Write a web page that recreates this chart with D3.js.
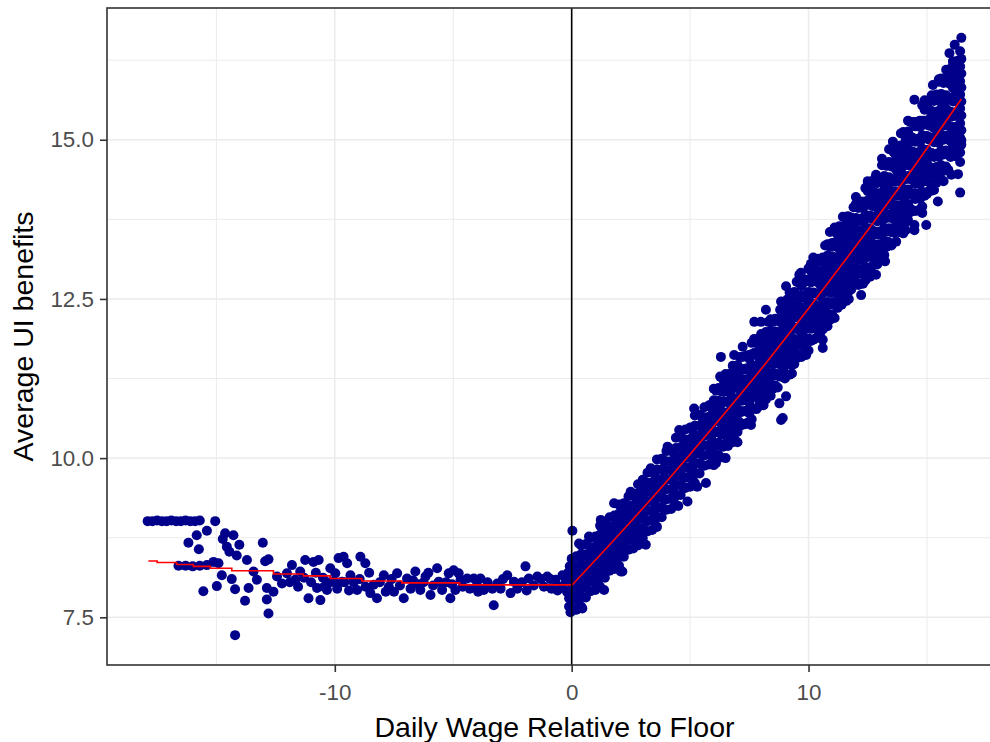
<!DOCTYPE html>
<html>
<head>
<meta charset="utf-8">
<script src="https://cdn.jsdelivr.net/npm/d3@7"></script>
<style>
  html, body { margin: 0; padding: 0; background: #ffffff; }
  svg { display: block; font-family: "Liberation Sans", Arial, Helvetica, sans-serif; }
</style>
</head>
<body>
<svg id="chart" width="990" height="742"></svg>
<script>
// ---- data -----------------------------------------------------------------
// Bins capped at the benefit maximum on the far left
const capRowX = [-17.9, -17.7, -17.5, -17.3, -17.1, -16.9, -16.7, -16.5, -16.3, -16.1, -15.9, -15.7, -15.05];
const capRowY = [9.01, 9.01, 9.02, 9.01, 9.01, 9.02, 9.01, 9.01, 9.02, 9.01, 9.01, 9.02, 9.01];

// Bins below the floor (x < 0)
const belowFloor = [
  [-15.83, 8.79], [-15.40, 8.86], [-16.18, 8.67], [-15.74, 8.57], [-14.63, 8.82], [-14.28, 8.79],
  [-14.73, 8.73], [-14.03, 8.64], [-14.56, 8.61], [-14.45, 8.53], [-14.14, 8.47], [-13.71, 8.40],
  [-13.04, 8.67], [-12.80, 8.41], [-12.94, 8.38], [-15.12, 8.37], [-14.91, 8.35],
  [-16.6, 8.31], [-16.3, 8.31], [-16.0, 8.30], [-15.7, 8.31], [-15.4, 8.32],
  [-14.77, 8.16], [-14.35, 8.10], [-14.98, 7.99], [-15.55, 7.91], [-14.21, 7.94], [-13.79, 7.76],
  [-12.80, 7.56], [-14.21, 7.22], [-13.64, 7.96], [-13.29, 8.09], [-13.43, 8.22], [-12.87, 7.96],
  [-12.59, 7.90], [-12.87, 7.78], [-12.44, 8.14], [-12.23, 8.03], [-12.02, 8.19], [-11.81, 8.32],
  [-11.46, 8.22], [-11.25, 8.40], [-10.90, 8.37], [-10.68, 8.40], [-11.67, 8.09], [-11.11, 7.80],
  [-10.61, 7.77], [-10.75, 7.96], [-10.33, 7.93], [-10.05, 8.06], [-10.19, 8.27], [-9.84, 8.43],
  [-9.98, 8.19], [-9.63, 8.45], [-8.92, 8.45], [-8.71, 8.35], [-9.48, 8.35], [-9.70, 8.06],
  [-9.34, 8.16], [-9.06, 7.93], [-8.36, 8.01], [-8.22, 7.80], [-7.93, 8.16], [-7.72, 7.98],
  [-7.37, 8.19], [-7.09, 7.80], [-6.95, 8.11], [-6.60, 8.22], [-6.39, 7.93], [-6.17, 8.14],
  [-5.96, 7.85], [-5.68, 8.27], [-5.61, 8.06], [-5.47, 7.93], [-5.19, 8.19], [-4.98, 8.24],
  [-4.77, 8.19], [-4.91, 7.93], [-5.12, 7.80], [-4.69, 8.09], [-4.41, 8.11], [-4.13, 8.11],
  [-3.85, 8.11], [-3.71, 7.93], [-3.29, 7.69], [-3.14, 8.03], [-2.72, 8.16], [-2.44, 8.06],
  [-2.58, 7.88], [-1.95, 8.30], [-1.81, 8.11], [-1.45, 8.14], [-1.17, 7.98], [-1.03, 8.14],
  [-0.68, 8.09], [-0.39, 8.16], [-0.47, 7.98], [-0.11, 7.80], [-0.11, 7.67], [0.03, 8.86],
  [-11.9, 8.05], [-11.55, 7.98], [-11.3, 8.12], [-11.0, 8.05], [-10.8, 8.20], [-10.5, 8.12],
  [-10.45, 7.98], [-10.2, 8.05], [-9.9, 7.95], [-9.6, 8.05], [-9.4, 7.92], [-9.2, 8.05],
  [-8.95, 8.10], [-8.7, 7.98], [-8.55, 8.20], [-8.5, 7.88], [-8.1, 8.05], [-7.85, 7.90],
  [-7.6, 8.10], [-7.5, 7.90], [-7.25, 8.00], [-6.8, 7.95], [-6.7, 8.08], [-6.5, 8.02],
  [-6.25, 8.05], [-6.05, 8.20], [-5.85, 8.00], [-5.3, 8.05], [-5.05, 8.02], [-4.6, 7.98],
  [-4.3, 7.95], [-4.0, 8.00], [-3.95, 7.90], [-3.55, 8.05], [-3.35, 7.95], [-3.0, 7.95],
  [-2.9, 8.10], [-2.3, 7.95], [-2.1, 8.05], [-1.9, 7.92], [-1.6, 8.00], [-1.3, 8.10],
  [-0.85, 7.95], [-0.9, 8.10], [-0.6, 7.92], [-0.25, 8.05], [-0.2, 7.90], [-0.15, 8.20],
  [-0.08, 8.30], [-0.05, 7.58]
];

// Bins above the floor: one column of averages per wage position
const aboveX = [0.0, 0.2, 0.4, 0.6, 0.8, 1.0, 1.2, 1.4, 1.6, 1.8, 2.0, 2.2, 2.4, 2.6, 2.8, 3.0, 3.2, 3.4,
  3.6, 3.8, 4.0, 4.2, 4.4, 4.6, 4.8, 5.0, 5.2, 5.4, 5.6, 5.8, 6.0, 6.2, 6.4, 6.6, 6.8, 7.0, 7.2, 7.4,
  7.6, 7.8, 8.0, 8.2, 8.4, 8.6, 8.8, 9.0, 9.2, 9.4, 9.6, 9.8, 10.0, 10.2, 10.4, 10.6, 10.8, 11.0,
  11.2, 11.4, 11.6, 11.8, 12.0, 12.2, 12.4, 12.6, 12.8, 13.0, 13.2, 13.4, 13.6, 13.8, 14.0, 14.2,
  14.4, 14.6, 14.8, 15.0, 15.2, 15.4, 15.6, 15.8, 16.0, 16.2, 16.4];
const aboveY = [
  [8.42, 8.27, 8.15, 8.03, 7.90, 7.77, 7.64],
  [8.46, 8.30, 8.17, 8.04, 7.90, 7.77, 7.62],
  [8.63, 8.49, 8.35, 8.22, 8.09, 7.95, 7.81, 7.67],
  [8.65, 8.49, 8.36, 8.23, 8.10, 7.96, 7.81],
  [8.75, 8.60, 8.47, 8.34, 8.20, 8.06, 7.91],
  [8.77, 8.61, 8.48, 8.35, 8.21, 8.08, 7.93],
  [8.94, 8.80, 8.66, 8.53, 8.40, 8.26, 8.12, 7.98],
  [8.96, 8.80, 8.67, 8.54, 8.41, 8.27, 8.12],
  [9.07, 8.92, 8.79, 8.66, 8.52, 8.38, 8.23],
  [9.10, 8.94, 8.81, 8.68, 8.54, 8.41, 8.26],
  [9.27, 9.13, 8.99, 8.86, 8.73, 8.59, 8.45, 8.31],
  [9.29, 9.13, 9.00, 8.87, 8.74, 8.60, 8.45],
  [9.40, 9.25, 9.12, 8.99, 8.85, 8.71, 8.56],
  [9.42, 9.26, 9.13, 9.00, 8.86, 8.73, 8.58],
  [9.59, 9.45, 9.31, 9.18, 9.05, 8.91, 8.77, 8.63],
  [9.66, 9.49, 9.34, 9.20, 9.06, 8.90, 8.74],
  [9.77, 9.61, 9.47, 9.32, 9.17, 9.01, 8.85],
  [9.80, 9.62, 9.48, 9.34, 9.18, 9.04, 8.87],
  [9.98, 9.82, 9.67, 9.53, 9.38, 9.23, 9.07, 8.92],
  [9.99, 9.82, 9.67, 9.53, 9.39, 9.23, 9.07],
  [10.11, 9.95, 9.81, 9.66, 9.51, 9.35, 9.19],
  [10.13, 9.95, 9.81, 9.67, 9.51, 9.37, 9.20],
  [10.32, 10.16, 10.01, 9.87, 9.72, 9.57, 9.41, 9.26],
  [10.34, 10.17, 10.02, 9.88, 9.74, 9.58, 9.42],
  [10.45, 10.29, 10.15, 10.00, 9.85, 9.69, 9.53],
  [10.48, 10.30, 10.16, 10.02, 9.86, 9.72, 9.55],
  [10.67, 10.51, 10.36, 10.22, 10.07, 9.92, 9.76, 9.61],
  [10.68, 10.51, 10.36, 10.22, 10.08, 9.92, 9.76],
  [10.80, 10.64, 10.50, 10.35, 10.20, 10.04, 9.88],
  [10.83, 10.65, 10.51, 10.37, 10.21, 10.07, 9.90],
  [11.09, 10.91, 10.74, 10.58, 10.41, 10.24, 10.06, 9.89],
  [11.10, 10.90, 10.74, 10.58, 10.41, 10.24, 10.05],
  [11.23, 11.04, 10.88, 10.72, 10.54, 10.37, 10.18],
  [11.25, 11.05, 10.88, 10.72, 10.54, 10.38, 10.19],
  [11.45, 11.27, 11.10, 10.94, 10.77, 10.60, 10.42, 10.25],
  [11.46, 11.26, 11.10, 10.94, 10.77, 10.60, 10.41],
  [11.59, 11.40, 11.24, 11.08, 10.90, 10.73, 10.54],
  [11.61, 11.41, 11.24, 11.08, 10.90, 10.74, 10.55],
  [11.81, 11.63, 11.46, 11.30, 11.13, 10.96, 10.78, 10.61],
  [11.82, 11.62, 11.46, 11.30, 11.13, 10.96, 10.77],
  [11.95, 11.76, 11.60, 11.44, 11.26, 11.09, 10.90],
  [11.98, 11.78, 11.61, 11.45, 11.27, 11.11, 10.92],
  [12.18, 12.00, 11.83, 11.67, 11.50, 11.33, 11.15, 10.98],
  [12.19, 11.99, 11.83, 11.67, 11.50, 11.33, 11.14],
  [12.33, 12.14, 11.98, 11.82, 11.64, 11.47, 11.28],
  [12.38, 12.17, 11.99, 11.82, 11.63, 11.45, 11.25],
  [12.60, 12.42, 12.23, 12.05, 11.88, 11.69, 11.50, 11.31],
  [12.61, 12.40, 12.22, 12.05, 11.87, 11.68, 11.48],
  [12.75, 12.55, 12.38, 12.20, 12.01, 11.82, 11.62],
  [12.76, 12.55, 12.37, 12.20, 12.01, 11.83, 11.63],
  [12.98, 12.80, 12.61, 12.43, 12.26, 12.07, 11.88, 11.69],
  [12.99, 12.78, 12.60, 12.43, 12.25, 12.06, 11.86],
  [13.13, 12.93, 12.76, 12.58, 12.39, 12.20, 12.00],
  [13.15, 12.94, 12.76, 12.59, 12.40, 12.22, 12.02],
  [13.36, 13.18, 12.99, 12.81, 12.64, 12.45, 12.26, 12.07],
  [13.38, 13.17, 12.99, 12.82, 12.64, 12.45, 12.25],
  [13.52, 13.32, 13.15, 12.97, 12.78, 12.59, 12.39],
  [13.54, 13.33, 13.15, 12.98, 12.79, 12.61, 12.41],
  [13.76, 13.58, 13.39, 13.21, 13.04, 12.85, 12.66, 12.47],
  [13.78, 13.57, 13.39, 13.22, 13.04, 12.85, 12.65],
  [13.99, 13.77, 13.57, 13.38, 13.16, 12.95, 12.73],
  [14.00, 13.76, 13.57, 13.37, 13.16, 12.96, 12.74],
  [14.24, 14.03, 13.82, 13.62, 13.42, 13.21, 13.00, 12.79],
  [14.25, 14.01, 13.81, 13.61, 13.42, 13.21, 12.98],
  [14.39, 14.17, 13.97, 13.78, 13.56, 13.35, 13.13],
  [14.40, 14.16, 13.97, 13.77, 13.56, 13.36, 13.14],
  [14.64, 14.43, 14.22, 14.02, 13.82, 13.61, 13.40, 13.19],
  [14.65, 14.41, 14.21, 14.01, 13.82, 13.61, 13.38],
  [14.80, 14.58, 14.38, 14.19, 13.97, 13.76, 13.54],
  [14.81, 14.57, 14.38, 14.18, 13.97, 13.77, 13.55],
  [15.12, 14.88, 14.65, 14.44, 14.22, 13.99, 13.76, 13.53],
  [15.13, 14.86, 14.65, 14.43, 14.22, 13.99, 13.74],
  [15.28, 15.03, 14.81, 14.60, 14.37, 14.14, 13.89],
  [15.28, 15.01, 14.80, 14.58, 14.35, 14.14, 13.89],
  [15.54, 15.30, 15.07, 14.86, 14.64, 14.41, 14.18, 13.95],
  [15.54, 15.27, 15.06, 14.84, 14.63, 14.40, 14.15],
  [15.70, 15.45, 15.23, 15.02, 14.79, 14.56, 14.31],
  [15.71, 15.44, 15.23, 15.01, 14.78, 14.57, 14.32],
  [15.96, 15.72, 15.49, 15.28, 15.06, 14.83, 14.60, 14.37],
  [15.97, 15.70, 15.49, 15.27, 15.06, 14.83, 14.58],
  [16.12, 15.87, 15.65, 15.44, 15.21, 14.98, 14.73],
  [16.13, 15.86, 15.65, 15.43, 15.20, 14.99, 14.74],
  [16.39, 16.15, 15.92, 15.71, 15.49, 15.26, 15.03, 14.80]
];

// Bins between the columns above, where the band is widest
const aboveMidX = [6.1, 6.3, 6.5, 6.7, 6.9, 7.1, 7.3, 7.5, 7.7, 7.9, 8.1, 8.3, 8.5, 8.7, 8.9,
  9.1, 9.3, 9.5, 9.7, 9.9, 10.1, 10.3, 10.5, 10.7, 10.9, 11.1, 11.3, 11.5, 11.7, 11.9,
  12.1, 12.3, 12.5, 12.7, 12.9, 13.1, 13.3, 13.5, 13.7, 13.9, 14.1, 14.3, 14.5, 14.7,
  14.9, 15.1, 15.3, 15.5, 15.7, 15.9, 16.1, 16.3];
const aboveMidY = [
  [11.06, 10.85, 10.63, 10.41, 10.20, 9.99],
  [11.08, 10.85, 10.64, 10.42, 10.20, 10.01],
  [11.32, 11.10, 10.89, 10.66, 10.45, 10.23],
  [11.33, 11.12, 10.90, 10.68, 10.47, 10.26],
  [11.35, 11.12, 10.91, 10.69, 10.47, 10.28],
  [11.59, 11.37, 11.16, 10.93, 10.72, 10.50],
  [11.60, 11.39, 11.17, 10.95, 10.74, 10.53],
  [11.62, 11.39, 11.18, 10.96, 10.74, 10.55],
  [11.87, 11.65, 11.44, 11.21, 11.00, 10.78],
  [11.88, 11.67, 11.45, 11.23, 11.02, 10.81],
  [11.90, 11.67, 11.46, 11.24, 11.02, 10.83],
  [12.14, 11.92, 11.71, 11.48, 11.27, 11.05],
  [12.16, 11.95, 11.73, 11.51, 11.30, 11.09],
  [12.18, 11.95, 11.74, 11.52, 11.30, 11.11],
  [12.42, 12.20, 11.99, 11.76, 11.55, 11.33],
  [12.49, 12.26, 12.02, 11.78, 11.55, 11.31],
  [12.51, 12.25, 12.02, 11.78, 11.54, 11.33],
  [12.77, 12.53, 12.30, 12.04, 11.81, 11.57],
  [12.77, 12.54, 12.30, 12.06, 11.83, 11.59],
  [12.80, 12.54, 12.31, 12.07, 11.83, 11.62],
  [13.05, 12.81, 12.58, 12.32, 12.09, 11.85],
  [13.06, 12.83, 12.59, 12.35, 12.12, 11.88],
  [13.09, 12.83, 12.60, 12.36, 12.12, 11.91],
  [13.34, 13.10, 12.87, 12.61, 12.38, 12.14],
  [13.35, 13.12, 12.88, 12.64, 12.41, 12.17],
  [13.38, 13.12, 12.89, 12.65, 12.41, 12.20],
  [13.64, 13.40, 13.17, 12.91, 12.68, 12.44],
  [13.65, 13.42, 13.18, 12.94, 12.71, 12.47],
  [13.68, 13.42, 13.19, 12.95, 12.71, 12.50],
  [13.94, 13.70, 13.47, 13.21, 12.98, 12.74],
  [14.00, 13.75, 13.49, 13.22, 12.97, 12.72],
  [14.02, 13.74, 13.49, 13.23, 12.96, 12.74],
  [14.30, 14.04, 13.78, 13.51, 13.26, 12.99],
  [14.30, 14.05, 13.79, 13.52, 13.27, 13.02],
  [14.32, 14.04, 13.79, 13.53, 13.26, 13.04],
  [14.60, 14.34, 14.08, 13.81, 13.56, 13.29],
  [14.60, 14.35, 14.09, 13.82, 13.57, 13.32],
  [14.62, 14.34, 14.09, 13.83, 13.56, 13.34],
  [14.91, 14.65, 14.39, 14.12, 13.87, 13.60],
  [14.91, 14.66, 14.40, 14.13, 13.88, 13.63],
  [14.98, 14.68, 14.40, 14.12, 13.83, 13.58],
  [15.28, 14.99, 14.72, 14.42, 14.15, 13.86],
  [15.28, 15.00, 14.72, 14.43, 14.16, 13.88],
  [15.30, 15.00, 14.72, 14.44, 14.15, 13.90],
  [15.59, 15.30, 15.03, 14.73, 14.46, 14.17],
  [15.60, 15.32, 15.04, 14.75, 14.48, 14.20],
  [15.61, 15.31, 15.03, 14.75, 14.46, 14.21],
  [15.91, 15.62, 15.35, 15.05, 14.78, 14.49],
  [15.91, 15.63, 15.35, 15.06, 14.79, 14.51],
  [15.93, 15.63, 15.35, 15.07, 14.78, 14.53],
  [16.23, 15.94, 15.67, 15.37, 15.10, 14.81],
  [16.24, 15.96, 15.68, 15.39, 15.12, 14.84]
];

// Further bins filling the interior of the band
const aboveFillX = [1.1, 1.5, 1.9, 2.3, 2.7, 3.1, 3.5, 3.9, 4.3, 4.7, 5.1, 5.5, 5.9, 6.3, 6.7,
  7.1, 7.5, 7.9,
  8.1, 8.5, 8.9, 9.3, 9.7, 10.1, 10.5, 10.9, 11.1, 11.3, 11.5, 11.7, 11.9, 12.1,
  12.3, 12.5, 12.7, 12.9, 13.1, 13.3, 13.5, 13.7, 13.9, 14.1, 14.3, 14.5, 14.7, 14.9, 15.1,
  15.3, 15.5, 15.7, 15.9, 16.1, 16.3, 16.45];
const aboveFillY = [
  [8.73, 8.59, 8.46, 8.32, 8.19, 8.05],
  [8.92, 8.78, 8.65, 8.52, 8.38, 8.24],
  [9.06, 8.92, 8.79, 8.65, 8.52, 8.38],
  [9.25, 9.11, 8.98, 8.85, 8.71, 8.57],
  [9.38, 9.24, 9.11, 8.97, 8.84, 8.70],
  [9.62, 9.46, 9.31, 9.17, 9.02, 8.86],
  [9.75, 9.59, 9.45, 9.30, 9.15, 9.00],
  [9.95, 9.79, 9.64, 9.50, 9.35, 9.19],
  [10.08, 9.92, 9.78, 9.63, 9.48, 9.33],
  [10.30, 10.14, 9.99, 9.85, 9.70, 9.54],
  [10.44, 10.28, 10.14, 9.99, 9.84, 9.68],
  [10.64, 10.48, 10.34, 10.20, 10.05, 9.89],
  [10.79, 10.63, 10.49, 10.34, 10.19, 10.03],
  [11.05, 10.87, 10.71, 10.55, 10.38, 10.20],
  [11.20, 11.02, 10.85, 10.68, 10.51, 10.34],
  [11.41, 11.23, 11.07, 10.91, 10.74, 10.56],
  [11.56, 11.38, 11.21, 11.04, 10.87, 10.70],
  [11.77, 11.59, 11.43, 11.27, 11.10, 10.92],
  [11.91, 11.73, 11.57, 11.40, 11.23, 11.05],
  [12.14, 11.97, 11.80, 11.64, 11.47, 11.29, 11.12],
  [12.29, 12.11, 11.95, 11.78, 11.61, 11.43],
  [12.56, 12.38, 12.19, 12.02, 11.84, 11.65, 11.46],
  [12.70, 12.52, 12.34, 12.16, 11.97, 11.77],
  [12.94, 12.76, 12.57, 12.40, 12.22, 12.03, 11.84],
  [13.08, 12.90, 12.72, 12.54, 12.35, 12.15],
  [13.32, 13.14, 12.95, 12.78, 12.60, 12.41, 12.22],
  [13.33, 13.13, 12.96, 12.78, 12.60, 12.40],
  [13.47, 13.29, 13.11, 12.93, 12.74, 12.54],
  [13.49, 13.29, 13.12, 12.94, 12.75, 12.56],
  [13.72, 13.54, 13.35, 13.18, 13.00, 12.81, 12.62],
  [13.73, 13.53, 13.36, 13.18, 13.00, 12.80],
  [13.93, 13.72, 13.53, 13.32, 13.11, 12.89],
  [13.93, 13.72, 13.52, 13.32, 13.11, 12.90],
  [14.19, 13.98, 13.77, 13.57, 13.37, 13.16, 12.95],
  [14.18, 13.96, 13.76, 13.57, 13.37, 13.15],
  [14.33, 14.12, 13.93, 13.72, 13.51, 13.29],
  [14.33, 14.12, 13.92, 13.72, 13.51, 13.30],
  [14.59, 14.38, 14.17, 13.97, 13.77, 13.56, 13.35],
  [14.58, 14.36, 14.16, 13.97, 13.77, 13.55],
  [14.74, 14.53, 14.34, 14.13, 13.92, 13.70],
  [14.74, 14.53, 14.33, 14.13, 13.92, 13.71],
  [15.05, 14.82, 14.60, 14.38, 14.16, 13.93, 13.70],
  [15.05, 14.81, 14.59, 14.38, 14.16, 13.92],
  [15.21, 14.97, 14.76, 14.54, 14.31, 14.07],
  [15.20, 14.96, 14.74, 14.52, 14.30, 14.07],
  [15.47, 15.24, 15.02, 14.80, 14.58, 14.35, 14.12],
  [15.46, 15.22, 15.00, 14.79, 14.57, 14.33],
  [15.63, 15.39, 15.18, 14.96, 14.73, 14.49],
  [15.63, 15.39, 15.17, 14.95, 14.73, 14.50],
  [15.89, 15.66, 15.44, 15.22, 15.00, 14.77, 14.54],
  [15.89, 15.65, 15.43, 15.22, 15.00, 14.76],
  [16.05, 15.81, 15.60, 15.38, 15.15, 14.91],
  [16.05, 15.81, 15.59, 15.37, 15.15, 14.92],
  [16.27, 16.04, 15.82, 15.60, 15.38, 15.15, 14.92]
];

// Scattered bins along the edges of the band above the floor
const aboveEdges = [
  [0.31, 8.66], [0.73, 8.77], [1.23, 9.03], [1.79, 9.29], [2.49, 9.47], [3.34, 9.84], [4.05, 10.18],
  [4.54, 10.44], [5.17, 10.78], [6.27, 11.28], [6.30, 11.59], [6.86, 11.62], [7.22, 11.75],
  [7.71, 12.14], [7.99, 12.14], [8.20, 12.33], [8.84, 12.46], [9.05, 12.70], [9.61, 12.88],
  [9.68, 12.91], [10.2, 13.15], [10.9, 13.55], [11.1, 13.62], [11.45, 13.79], [11.66, 13.80],
  [12.0, 14.10], [12.22, 14.03], [12.5, 14.35], [12.85, 14.45], [13.1, 14.70], [13.4, 14.85],
  [13.56, 14.97], [13.9, 15.10], [14.2, 15.30], [14.47, 15.63], [14.9, 15.62], [15.25, 15.86],
  [15.5, 15.95], [15.81, 16.10], [15.95, 16.36], [16.10, 16.23], [16.17, 16.05], [16.17, 16.49],
  [16.45, 16.60],
  [0.10, 7.62], [0.45, 7.64], [1.37, 7.93], [2.07, 8.22], [2.14, 8.22], [3.13, 8.64], [4.5, 9.25],
  [4.89, 9.32], [5.3, 9.55], [5.67, 9.61], [6.09, 9.92], [6.5, 10.00], [7.0, 10.25], [7.57, 10.52],
  [7.99, 10.91], [8.77, 10.86], [8.84, 10.60], [8.91, 10.63], [9.05, 10.97], [10.60, 11.86],
  [10.60, 11.73], [11.23, 12.36], [12.22, 12.56], [12.6, 12.85], [12.85, 12.88], [13.23, 13.09],
  [13.35, 13.40], [13.7, 13.40], [14.33, 13.90], [14.47, 13.66], [14.47, 13.58], [14.8, 13.85],
  [14.97, 13.66], [15.2, 14.20], [15.46, 14.03], [15.7, 14.35], [16.03, 14.45], [16.31, 14.46],
  [16.4, 14.17], [16.45, 14.99], [16.4, 14.65]
];

// Fitted values: step fit below the floor, smooth fit above it
const fitBelowX = [-17.87, -17.5, -16.68, -15.97, -15.26, -14.35, -12.59, -11.32, -10.19, -8.86, -7.17, -4.73, 0];
const fitBelowY = [8.385, 8.36, 8.33, 8.30, 8.27, 8.23, 8.18, 8.15, 8.11, 8.07, 8.04, 8.01, 8.00];
const fitAboveX = [0, 2, 4, 6, 8, 10, 12, 14, 16.45];
const fitAboveY = [8.00, 8.80, 9.63, 10.50, 11.40, 12.35, 13.33, 14.34, 15.64];

// Axis breaks
const xTicks = [-10, 0, 10];
const xMinor = [-15, -5, 5, 15];
const yTicks = [7.5, 10.0, 12.5, 15.0];
const yMinor = [8.75, 11.25, 13.75, 16.25];

const xTitle = "Daily Wage Relative to Floor";
const yTitle = "Average UI benefits";

// ---- assemble points ------------------------------------------------------
const points = [];
capRowX.forEach((x, i) => points.push({ x, y: capRowY[i] }));
belowFloor.forEach(([x, y]) => points.push({ x, y }));
aboveX.forEach((x, i) => aboveY[i].forEach(y => points.push({ x, y })));
aboveMidX.forEach((x, i) => aboveMidY[i].forEach(y => points.push({ x, y })));
aboveFillX.forEach((x, i) => aboveFillY[i].forEach(y => points.push({ x, y })));
aboveEdges.forEach(([x, y]) => points.push({ x, y }));

// ---- layout ---------------------------------------------------------------
const panel = { left: 107, top: 8, right: 1002, bottom: 665 };
const svg = d3.select("#chart");

function expanded(ext) {
  const pad = (ext[1] - ext[0]) * 0.05;
  return [ext[0] - pad, ext[1] + pad];
}

const x = d3.scaleLinear()
  .domain(expanded(d3.extent(points.concat(fitBelowX.map(v => ({ x: v }))), d => d.x)))
  .range([panel.left, panel.right]);
const y = d3.scaleLinear()
  .domain(expanded(d3.extent(points, d => d.y)))
  .range([panel.bottom, panel.top]);

svg.append("rect").attr("width", 990).attr("height", 742).attr("fill", "#ffffff");

// grid
const grid = svg.append("g");
grid.selectAll(".xminor").data(xMinor).join("line")
  .attr("x1", d => x(d)).attr("x2", d => x(d))
  .attr("y1", panel.top).attr("y2", panel.bottom)
  .attr("stroke", "#EBEBEB").attr("stroke-width", 1.0);
grid.selectAll(".yminor").data(yMinor).join("line")
  .attr("y1", d => y(d)).attr("y2", d => y(d))
  .attr("x1", panel.left).attr("x2", panel.right)
  .attr("stroke", "#EBEBEB").attr("stroke-width", 1.0);
grid.selectAll(".xmajor").data(xTicks).join("line")
  .attr("x1", d => x(d)).attr("x2", d => x(d))
  .attr("y1", panel.top).attr("y2", panel.bottom)
  .attr("stroke", "#EBEBEB").attr("stroke-width", 1.5);
grid.selectAll(".ymajor").data(yTicks).join("line")
  .attr("y1", d => y(d)).attr("y2", d => y(d))
  .attr("x1", panel.left).attr("x2", panel.right)
  .attr("stroke", "#EBEBEB").attr("stroke-width", 1.5);

// points
svg.append("g").selectAll("circle").data(points).join("circle")
  .attr("cx", d => x(d.x)).attr("cy", d => y(d.y))
  .attr("r", 5).attr("fill", "#00008B");

// fitted lines
const lineBelow = d3.line().x(d => x(d[0])).y(d => y(d[1])).curve(d3.curveStepAfter);
svg.append("path")
  .attr("d", lineBelow(fitBelowX.map((v, i) => [v, fitBelowY[i]])))
  .attr("fill", "none").attr("stroke", "#FF0000").attr("stroke-width", 1.6);
const lineAbove = d3.line().x(d => x(d[0])).y(d => y(d[1])).curve(d3.curveMonotoneX);
svg.append("path")
  .attr("d", lineAbove(fitAboveX.map((v, i) => [v, fitAboveY[i]])))
  .attr("fill", "none").attr("stroke", "#FF0000").attr("stroke-width", 1.6);

// floor line
svg.append("line")
  .attr("x1", x(0)).attr("x2", x(0))
  .attr("y1", panel.top).attr("y2", panel.bottom)
  .attr("stroke", "#000000").attr("stroke-width", 1.6);

// panel border
svg.append("rect")
  .attr("x", panel.left).attr("y", panel.top)
  .attr("width", panel.right - panel.left).attr("height", panel.bottom - panel.top)
  .attr("fill", "none").attr("stroke", "#333333").attr("stroke-width", 1.6);

// axes
const xAxis = svg.append("g")
  .attr("transform", `translate(0,${panel.bottom})`)
  .call(d3.axisBottom(x).tickValues(xTicks).tickSize(7).tickPadding(12).tickFormat(d => String(d)));
const yAxis = svg.append("g")
  .attr("transform", `translate(${panel.left},0)`)
  .call(d3.axisLeft(y).tickValues(yTicks).tickSize(7).tickPadding(6).tickFormat(d => d.toFixed(1)));
[xAxis, yAxis].forEach(g => {
  g.select(".domain").remove();
  g.selectAll(".tick line").attr("stroke", "#333333").attr("stroke-width", 1.6);
  g.selectAll(".tick text")
    .attr("fill", "#4D4D4D")
    .style("font-size", "22.4px")
    .style("font-family", "'Liberation Sans', Arial, sans-serif");
});

// axis titles
svg.append("text")
  .attr("x", (panel.left + panel.right) / 2).attr("y", 737)
  .attr("text-anchor", "middle")
  .style("font-size", "28.5px").attr("fill", "#000000")
  .text(xTitle);
svg.append("text")
  .attr("transform", `translate(33,${(panel.top + panel.bottom) / 2}) rotate(-90)`)
  .attr("text-anchor", "middle")
  .style("font-size", "28.5px").attr("fill", "#000000")
  .text(yTitle);
</script>
</body>
</html>
